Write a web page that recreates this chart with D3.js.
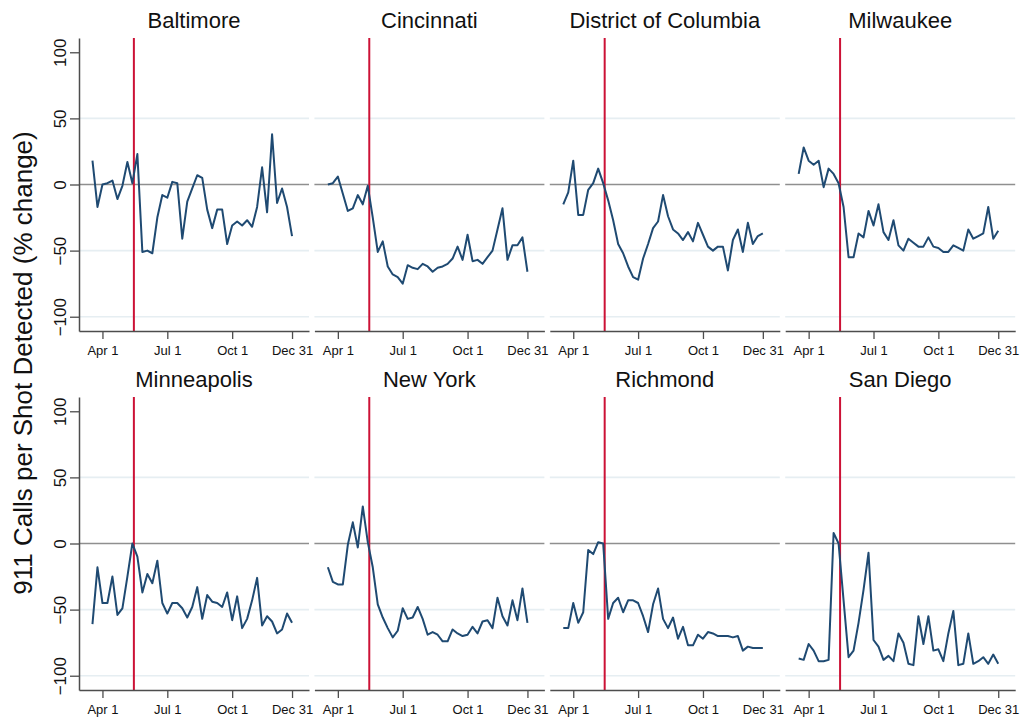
<!DOCTYPE html>
<html>
<head>
<meta charset="utf-8">
<script src="https://cdn.jsdelivr.net/npm/d3@7"></script>
<style>
  body { margin: 0; background: #fff; }
  svg { font-family: "Liberation Sans", Arial, sans-serif; }
</style>
</head>
<body>
<svg id="chart"></svg>
<script>
const width = 1021;
const height = 721;

// cities in panel order
const cities = ["Baltimore", "Cincinnati", "District of Columbia", "Milwaukee",
                "Minneapolis", "New York", "Richmond", "San Diego"];

// weeks of year covered by every series
const weeks = d3.range(12, 53);

// % change in 911 calls per shot detected, one value per week (12..52)
const baltimore = [18, -17, 0, 1, 3, -11, -1, 17, 1, 23, -51, -50, -52, -25, -8, -10, 2, 1, -41, -13,
  -3, 7, 5, -19, -33, -19, -19, -45, -31, -28, -31, -27, -32, -17, 13, -21, 38, -14, -3, -17, -39];
const cincinnati = [0, 1, 6, -7, -20, -18, -8, -15, -1, -25, -51, -43, -62, -68, -70, -75, -61, -63, -64, -60,
  -62, -66, -63, -62, -60, -56, -47, -57, -38, -58, -57, -60, -55, -50, -34, -18, -57, -46, -46, -40, -66];
const dc = [-15, -6, 18, -23, -23, -4, 1, 12, 1, -12, -27, -45, -52, -62, -70, -72, -56, -45, -33, -28,
  -8, -24, -34, -37, -42, -36, -43, -29, -38, -47, -50, -47, -47, -65, -42, -34, -51, -29, -45, -39, -37];
const milwaukee = [8, 28, 18, 15, 18, -2, 12, 8, 1, -17, -55, -55, -37, -40, -20, -31, -15, -36, -42, -27,
  -46, -50, -41, -44, -47, -47, -40, -47, -48, -51, -51, -46, -48, -50, -34, -41, -39, -37, -17, -41, -35];
const minneapolis = [-61, -18, -45, -45, -25, -54, -49, -25, 0, -10, -37, -23, -30, -13, -45, -53, -45, -45, -49, -56,
  -48, -33, -57, -39, -44, -45, -48, -37, -58, -40, -64, -57, -43, -26, -62, -55, -59, -68, -65, -53, -60];
const newYork = [-18, -29, -31, -31, -1, 16, -3, 28, 1, -18, -46, -56, -64, -71, -66, -49, -57, -56, -48, -57,
  -69, -67, -69, -74, -74, -65, -68, -70, -69, -63, -68, -59, -58, -64, -41, -55, -62, -43, -58, -34, -60];
const richmond = [-64, -64, -45, -60, -52, -5, -8, 1, 0, -57, -45, -41, -52, -43, -43, -45, -55, -67, -46, -34,
  -57, -64, -56, -72, -63, -77, -77, -69, -72, -67, -68, -70, -70, -70, -71, -70, -81, -78, -79, -79, -79];
const sanDiego = [-87, -88, -76, -81, -89, -89, -88, 8, 0, -43, -86, -81, -60, -35, -7, -73, -78, -88, -85, -89,
  -68, -75, -91, -92, -55, -76, -55, -81, -80, -89, -68, -51, -92, -91, -68, -91, -89, -86, -91, -84, -91];

const seriesList = [baltimore, cincinnati, dc, milwaukee, minneapolis, newYork, richmond, sanDiego];

// axis ticks
const xTickWeeks = [14, 27, 40, 52];
const xTickLabels = ["Apr 1", "Jul 1", "Oct 1", "Dec 31"];
const yTicks = [-100, -50, 0, 50, 100];
const gridValues = [-100, -50, 50];
const eventWeek = 20.3;

const panelLeft0 = 79;
const panelStep = 235.4;
const panelW = 230;
const panelTops = [38, 397];
const panelH = 293;

const svg = d3.select("#chart")
  .attr("width", width)
  .attr("height", height);

const x = d3.scaleLinear().domain([9.3, 55.4]).range([0, panelW]);
const y = d3.scaleLinear().domain([-110.8, 110.8]).range([panelH, 0]);

const line = d3.line()
  .x(d => x(d.week))
  .y(d => y(d.value));

cities.forEach((city, i) => {
  const col = i % 4;
  const row = Math.floor(i / 4);
  const g = svg.append("g")
    .attr("transform", `translate(${panelLeft0 + col * panelStep}, ${panelTops[row]})`);

  // light gridlines
  g.selectAll("line.grid")
    .data(gridValues)
    .enter()
    .append("line")
    .attr("class", "grid")
    .attr("x1", 0).attr("x2", panelW)
    .attr("y1", d => y(d)).attr("y2", d => y(d))
    .attr("stroke", "#e6eef2")
    .attr("stroke-width", 1.6);

  // zero line
  g.append("line")
    .attr("x1", 0).attr("x2", panelW)
    .attr("y1", y(0)).attr("y2", y(0))
    .attr("stroke", "#8f8f8f")
    .attr("stroke-width", 1.6);

  // event line
  g.append("line")
    .attr("x1", x(eventWeek)).attr("x2", x(eventWeek))
    .attr("y1", 0).attr("y2", panelH)
    .attr("stroke", "#cc1236")
    .attr("stroke-width", 2);

  // series
  const data = weeks.map((w, k) => ({ week: w, value: seriesList[i][k] }));
  g.append("path")
    .datum(data)
    .attr("fill", "none")
    .attr("stroke", "#1f4a72")
    .attr("stroke-width", 2)
    .attr("stroke-linejoin", "round")
    .attr("d", line);

  // x axis
  const xAxis = d3.axisBottom(x)
    .tickValues(xTickWeeks)
    .tickFormat((d, k) => xTickLabels[k])
    .tickSize(8)
    .tickSizeOuter(0)
    .tickPadding(7);
  const xa = g.append("g")
    .attr("transform", `translate(0, ${panelH})`)
    .call(xAxis);
  xa.select(".domain").attr("stroke", "#4d4d4d").attr("stroke-width", 1.5);
  xa.selectAll(".tick line").attr("stroke", "#4d4d4d").attr("stroke-width", 1.3);
  xa.selectAll(".tick text")
    .attr("fill", "#111")
    .style("font-size", "13px")
    .style("font-family", "Liberation Sans, Arial, sans-serif");

  // y axis only on left column
  if (col === 0) {
    const yAxis = d3.axisLeft(y)
      .tickValues(yTicks)
      .tickSize(9)
      .tickSizeOuter(0)
      .tickFormat(d3.format("d"));
    const ya = g.append("g").call(yAxis);
    ya.select(".domain").attr("stroke", "#4d4d4d").attr("stroke-width", 1.5);
    ya.selectAll(".tick line").attr("stroke", "#4d4d4d").attr("stroke-width", 1.3);
    ya.selectAll(".tick text")
      .attr("x", null).attr("dy", null)
      .attr("transform", "translate(-13, 0) rotate(-90)")
      .attr("text-anchor", "middle")
      .attr("fill", "#111")
      .style("font-size", "17px")
      .style("font-family", "Liberation Sans, Arial, sans-serif");
  }

  // panel title
  g.append("text")
    .attr("x", panelW / 2)
    .attr("y", -10)
    .attr("text-anchor", "middle")
    .style("font-size", "22px")
    .attr("fill", "#111")
    .text(city);
});

// y axis title
svg.append("text")
  .attr("transform", `translate(32, 363) rotate(-90)`)
  .attr("text-anchor", "middle")
  .style("font-size", "26px")
  .attr("fill", "#111")
  .text("911 Calls per Shot Detected (% change)");
</script>
</body>
</html>
